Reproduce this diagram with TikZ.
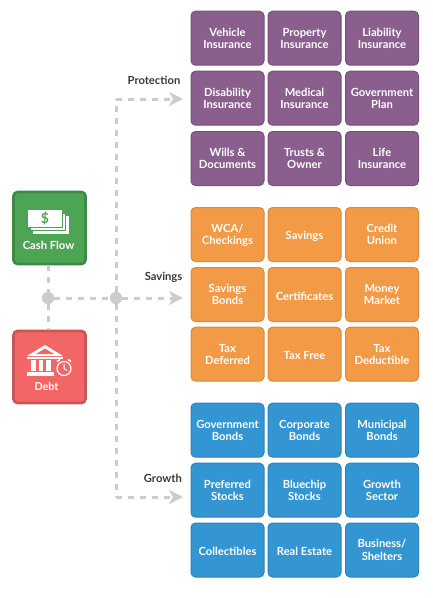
\documentclass[tikz,border=0pt]{standalone}
\usepackage{fontspec}
\setmainfont{Lato}
\usetikzlibrary{arrows.meta}
\definecolor{purpfill}{HTML}{8A5F8E}
\definecolor{purpline}{HTML}{75507A}
\definecolor{orfill}{HTML}{F29A45}
\definecolor{orline}{HTML}{DB8A3C}
\definecolor{blfill}{HTML}{3396D2}
\definecolor{blline}{HTML}{2C84BA}
\definecolor{grfill}{HTML}{4EA455}
\definecolor{grline}{HTML}{3D8A45}
\definecolor{refill}{HTML}{F26666}
\definecolor{reline}{HTML}{C95558}
\definecolor{dashcol}{HTML}{CCCCCC}
\definecolor{labelcol}{HTML}{3A3A3A}
\tikzset{
  x=1pt,y=-1pt,
  tile/.style={rounded corners=4.5pt,line width=1pt,minimum width=73pt,minimum height=54pt,inner sep=0pt,
     align=center,text=white,font=\fontsize{11.2}{12.4}\selectfont\bfseries},
  low/.style={execute at begin node={\rule{0pt}{11.5pt}}},
  lower/.style={text depth=-1pt},
  ptile/.style={tile,draw=purpline,fill=purpfill},
  otile/.style={tile,draw=orline,fill=orfill},
  btile/.style={tile,draw=blline,fill=blfill},
  bigtile/.style={rounded corners=4pt,line width=2.6pt,minimum width=72pt,minimum height=72pt,inner sep=0pt},
  dashline/.style={draw=dashcol,line width=3pt,dash pattern=on 5.5pt off 6.5pt},
  flowarrow/.style={dashline,-{Stealth[length=14pt,width=14pt,inset=4pt,fill=dashcol,sep=0pt]}},
  junction/.style={circle,fill=dashcol,minimum size=12pt,inner sep=0pt},
  grouplabel/.style={text=labelcol,font=\fontsize{11.2}{12}\selectfont\bfseries,inner sep=0pt,anchor=east},
}
\begin{document}
\begin{tikzpicture}
\useasboundingbox[fill=white] (0,0) rectangle (432,598);
% Protection
\node[ptile] (p11) at (227.5,38.2) {Vehicle\\Insurance};
\node[ptile] (p12) at (304.5,38.2) {Property\\Insurance};
\node[ptile] (p13) at (382,38.2) {Liability\\Insurance};
\node[ptile,lower] (p21) at (227.5,98.2) {Disability\\Insurance};
\node[ptile,lower] (p22) at (304.5,98.2) {Medical\\Insurance};
\node[ptile,lower] (p23) at (382,98.2) {Government\\Plan};
\node[ptile,lower] (p31) at (227.5,158.5) {Wills \&\\Documents};
\node[ptile,lower] (p32) at (304.5,158.5) {Trusts \&\\Owner};
\node[ptile,lower] (p33) at (382,158.5) {Life\\Insurance};
% Savings
\node[otile,lower] (s11) at (227.5,234.5) {WCA/\\Checkings};
\node[otile,low] (s12) at (304.5,234.5) {Savings};
\node[otile,lower] (s13) at (382,234.5) {Credit\\Union};
\node[otile] (s21) at (227.5,294.5) {Savings\\Bonds};
\node[otile,low] (s22) at (304.5,294.5) {Certificates};
\node[otile] (s23) at (382,294.5) {Money\\Market};
\node[otile] (s31) at (227.5,354.2) {Tax\\Deferred};
\node[otile,low] (s32) at (304.5,354.2) {Tax Free};
\node[otile] (s33) at (382,354.2) {Tax\\Deductible};
% Growth
\node[btile,lower] (g11) at (227.5,430.2) {Government\\Bonds};
\node[btile,lower] (g12) at (304.5,430.2) {Corporate\\Bonds};
\node[btile,lower] (g13) at (382,430.2) {Municipal\\Bonds};
\node[btile,lower] (g21) at (227.5,490.2) {Preferred\\Stocks};
\node[btile,lower] (g22) at (304.5,490.2) {Bluechip\\Stocks};
\node[btile,lower] (g23) at (382,490.2) {Growth\\Sector};
\node[btile,low] (g31) at (227.5,550) {Collectibles};
\node[btile,low] (g32) at (304.5,550) {Real Estate};
\node[btile,lower] (g33) at (382,550) {Business/\\Shelters};
% Group labels
\node[grouplabel] (lp) at (180.5,80) {Protection};
\node[grouplabel] (ls) at (182.5,277.5) {Savings};
\node[grouplabel] (lg) at (182,478.5) {Growth};
% Left tiles
\node[bigtile,draw=grline,fill=grfill] (cash) at (49.5,228) {};
\node[bigtile,draw=reline,fill=refill] (debt) at (49.5,367) {};
% Connectors
\node[junction] (j1) at (48,298) {};
\node[junction] (j2) at (116,298) {};
\coordinate (top) at (116,99);
\coordinate (bot) at (116,497);
\coordinate (ap) at (183,99);
\coordinate (as) at (183,298);
\coordinate (ag) at (183,497);
\draw[dashline] (cash.south -| j1) -- (j1);
\draw[dashline] (j1) -- (debt.north -| j1);
\draw[dashline] (j2) -- (top);
\draw[dashline] (j2) -- (bot);
\draw[flowarrow] (top) -- (ap);
\draw[flowarrow] (bot) -- (ag);
\draw[flowarrow] (j1) -- (j2) -- (as);
\node[junction] at (j1) {};
\node[junction] at (j2) {};
% Cash icon
\draw[white,fill=white,line width=.6pt] (33,216) rectangle (68,233);
\draw[grfill,fill=white,line width=.9pt] (30.5,213) rectangle (65.5,230);
\draw[grfill,fill=white,line width=.9pt] (27.5,209.5) rectangle (62.5,227);
\node[text=grfill,font=\fontsize{14}{14}\selectfont\bfseries,inner sep=0pt] (dollar) at (45,218.5) {\$};
\node[text=white,font=\fontsize{11.2}{12}\selectfont\bfseries,inner sep=0pt] (cashlabel) at (48.5,245.5) {Cash Flow};
% Debt icon
\fill[white] (45,345) -- (63,356) -- (27,356) -- cycle;
\fill[refill] (45,348.5) -- (54,354) -- (36,354) -- cycle;
\fill[white] (27,356.5) rectangle (63,358.5);
\fill[white] (31,360) rectangle (35.5,371);
\fill[white] (38.5,360) rectangle (43,371);
\fill[white] (46,360) rectangle (50.5,371);
\fill[white] (27,372) rectangle (53.5,376);
\draw[white,line width=1.2pt,fill=refill] (64,368.5) circle (7);
\draw[white,line width=1pt] (64,364) -- (64,368.5) -- (67,370.5);
\draw[white,line width=1.4pt] (57,361.5) -- (60,359.5);
\draw[white,line width=1.4pt] (71,361.5) -- (68,359.5);
\node[text=white,font=\fontsize{10.8}{12}\selectfont\bfseries,inner sep=0pt] (debtlabel) at (46.5,387) {Debt};
\end{tikzpicture}
\end{document}
